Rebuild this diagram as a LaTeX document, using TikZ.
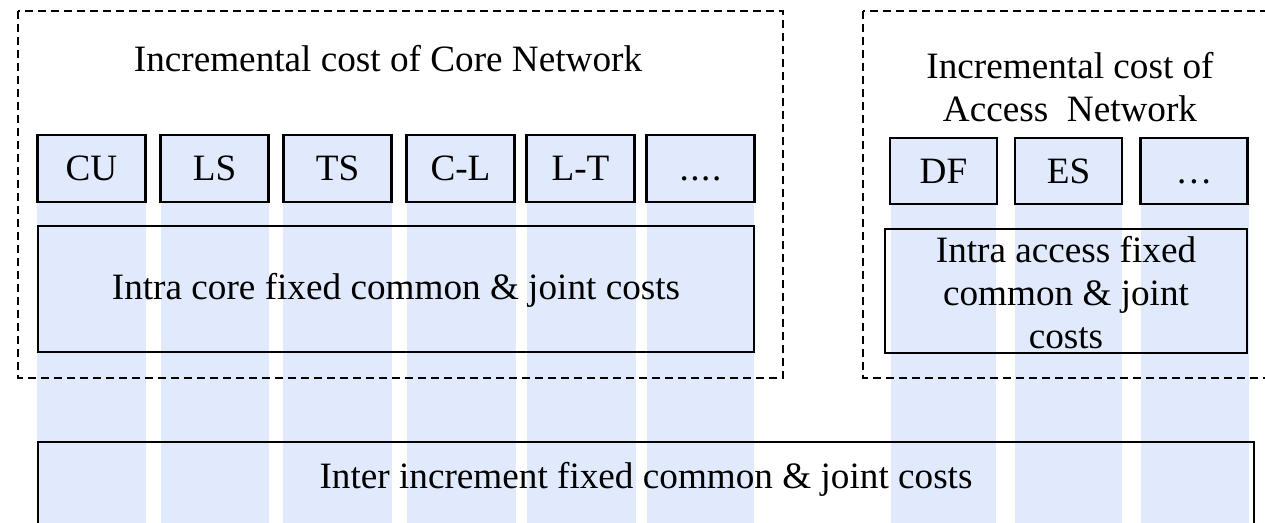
\documentclass[tikz,border=0pt]{standalone}
\usepackage{fontspec}
\setmainfont{Liberation Serif}
\definecolor{lb}{RGB}{224,234,252}
\begin{document}
\begin{tikzpicture}[x=1pt,y=-1pt,
  sbox/.style={draw=black,fill=lb,line width=2.2pt,minimum height=67pt,minimum width=108pt,inner sep=0pt,font=\fontsize{37.2}{43}\selectfont},
  bigbox/.style={draw=black,line width=2.2pt},
  dbox/.style={draw=black,line width=2pt,dash pattern=on 8pt off 5pt},
  lbl/.style={font=\fontsize{37.2}{43}\selectfont,inner sep=0pt,align=center}]
\useasboundingbox (0,0) rectangle (1265,522);
\clip (0,0) rectangle (1265,522);
% strips
\foreach \a/\b in {37/146,161/269,283/392,407/516,527/636,647/754,891/996,1015/1122,1141/1249}
  \fill[lb] (\a,190) rectangle (\b,530);
% dashed increments
\draw[dbox] (18,11) rectangle (783,378);
\draw[dbox] (863,11) rectangle (1290,378);
% core boxes
\node[sbox] (cu) at (91.5,168.5) {CU};
\node[sbox] (ls) at (214.5,168.5) {LS};
\node[sbox] (ts) at (337.5,168.5) {TS};
\node[sbox] (cl) at (460.5,168.5) {C-L};
\node[sbox] (lt) at (580.5,168.5) {L-T};
\node[sbox] (cd) at (700.5,168.5) {\vphantom{C}.\kern1.5pt.\kern1.5pt.\kern1.5pt.};
% access boxes
\node[sbox,minimum width=107pt,minimum height=66pt] (df) at (943.5,171) {DF};
\node[sbox,minimum width=107pt,minimum height=66pt] (es) at (1068.5,171) {ES};
\node[sbox,minimum width=107pt,minimum height=66pt] (ad) at (1194,171) {\vphantom{C}.\kern3pt.\kern3pt.};
% big boxes
\draw[bigbox] (38,226) rectangle (754,352);
\node[lbl] (intracore) at (396,290) {Intra core fixed common \& joint costs};
\draw[bigbox] (885,229) rectangle (1247,353);
\node[lbl] (intraacc) at (1066,293) {Intra access fixed\\common \& joint\\costs};
\draw[bigbox] (38,442) rectangle (1254,540);
\node[lbl,anchor=base] (inter) at (646,488) {Inter increment fixed common \& joint costs};
% titles
\node[lbl,anchor=base] (coret) at (388,71) {Incremental cost of Core Network};
\node[lbl] (acct) at (1070,87) {Incremental cost of\\Access\ \ Network};
\end{tikzpicture}
\end{document}
